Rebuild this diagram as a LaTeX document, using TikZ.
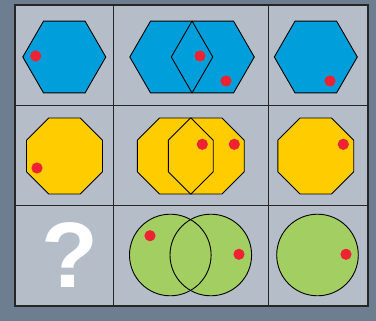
\documentclass[tikz,border=0pt]{standalone}
\usepackage{fontspec}
\setmainfont{Liberation Sans}
\definecolor{outerbg}{HTML}{6E7E91}
\definecolor{cellbg}{HTML}{B5BDC8}
\definecolor{hexblue}{HTML}{009FDB}
\definecolor{octyellow}{HTML}{FFCC00}
\definecolor{circgreen}{HTML}{A3CF62}
\definecolor{dotred}{HTML}{EE2233}
\tikzset{
  gridline/.style={line width=1pt, black!85},
  outerline/.style={line width=1.6pt, black!85},
  shapeline/.style={line width=0.9pt, black},
  reddot/.style={fill=dotred},
}
\newcommand{\hexpath}[2]{[shift={(#1,#2)}] (0:41.5) -- (60:41.5) -- (120:41.5) -- (180:41.5) -- (240:41.5) -- (300:41.5) -- cycle}
\newcommand{\octpath}[2]{[shift={(#1,#2)}] (22.5:41.1) -- (67.5:41.1) -- (112.5:41.1) -- (157.5:41.1) -- (202.5:41.1) -- (247.5:41.1) -- (292.5:41.1) -- (337.5:41.1) -- cycle}
\newcommand{\rdot}[2]{\fill[reddot] (#1,#2) circle (5.6);}
\begin{document}
\begin{tikzpicture}[x=1pt,y=-1pt]
\fill[outerbg] (0,0) rectangle (376,321);
\useasboundingbox (0,0) rectangle (376,321);
\fill[cellbg] (15,5) rectangle (368,306);
% grid
\draw[gridline] (113,5) -- (113,306);
\draw[gridline] (268,5) -- (268,306);
\draw[gridline] (15,106) -- (368,106);
\draw[gridline] (15,206) -- (368,206);
\draw[outerline] (15,5) rectangle (368,306);
% row 1: hexagons
\fill[hexblue] \hexpath{64.3}{57};
\draw[shapeline] \hexpath{64.3}{57};
\rdot{35.7}{56}
\fill[hexblue] \hexpath{171.3}{57};
\fill[hexblue] \hexpath{212.8}{57};
\draw[shapeline] \hexpath{171.3}{57};
\draw[shapeline] \hexpath{212.8}{57};
\rdot{200}{56}
\rdot{226}{81}
\fill[hexblue] \hexpath{315.8}{57};
\draw[shapeline] \hexpath{315.8}{57};
\rdot{330}{81}
% row 2: octagons
\fill[octyellow] \octpath{64.5}{156};
\draw[shapeline] \octpath{64.5}{156};
\rdot{37}{168}
\fill[octyellow] \octpath{175.3}{156};
\fill[octyellow] \octpath{206.3}{156};
\draw[shapeline] \octpath{175.3}{156};
\draw[shapeline] \octpath{206.3}{156};
\rdot{202.3}{144.3}
\rdot{234.3}{144.3}
\fill[octyellow] \octpath{315.8}{156};
\draw[shapeline] \octpath{315.8}{156};
\rdot{343.3}{144.3}
% row 3: circles
\node[text=white, font=\bfseries\fontsize{93}{93}\selectfont, inner sep=0pt] (qmark) at (70,255) {?};
\fill[circgreen] (170.3,255) circle (40.8);
\fill[circgreen] (210.8,255) circle (40.8);
\draw[shapeline] (170.3,255) circle (40.8);
\draw[shapeline] (210.8,255) circle (40.8);
\rdot{150}{235.7}
\rdot{239}{254.3}
\fill[circgreen] (317.5,255) circle (40.8);
\draw[shapeline] (317.5,255) circle (40.8);
\rdot{346}{254.3}
\end{tikzpicture}
\end{document}
